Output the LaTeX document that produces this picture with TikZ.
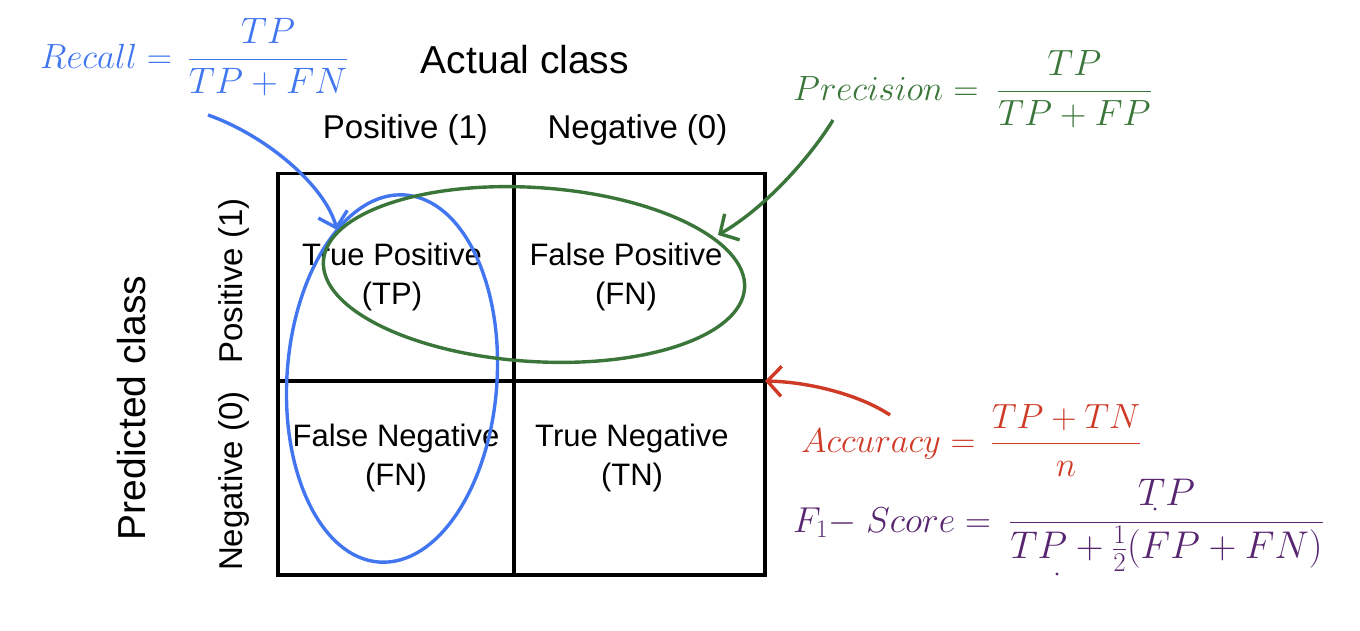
\RequirePackage{fix-cm}
\documentclass[tikz,border=0pt]{standalone}
\usepackage[no-math]{fontspec}
\newfontfamily\sansf{Liberation Sans}
\usetikzlibrary{arrows.meta}
\definecolor{recallblue}{RGB}{66,118,240}
\definecolor{precgreen}{RGB}{58,118,58}
\definecolor{accred}{RGB}{206,58,38}
\definecolor{fpurple}{RGB}{88,38,112}
\newcommand{\fsz}[1]{\fontsize{#1}{#1}\selectfont}
\begin{document}
\begin{tikzpicture}[x=1pt,y=1pt,
  lbl/.style={font=\sansf\fontsize{33}{40}\selectfont, inner sep=0pt},
  big/.style={font=\sansf\fontsize{39}{46}\selectfont, inner sep=0pt},
  cell/.style={font=\sansf\fontsize{31}{39}\selectfont, align=center, inner sep=0pt},
  gridline/.style={line width=3.8pt},
  loopline/.style={line width=3.4pt},
  pointer/.style={line width=3.4pt, -{Straight Barb[length=14pt,width=30pt]}},
  formula/.style={inner sep=0pt, anchor=base west}]
\useasboundingbox (0,0) rectangle (1360,-630);
% grid
\coordinate (tl) at (278,-173.5);
\coordinate (br) at (765,-575);
\coordinate (tm) at (514,-173.5);
\coordinate (bm) at (514,-575);
\coordinate (ml) at (278,-381);
\coordinate (mr) at (765,-381);
\draw[gridline] (tl) rectangle (br);
\draw[gridline] (tm) -- (bm);
\draw[gridline] (ml) -- (mr);
% headers
\node[big, anchor=base] (actual) at (525,-73.5) {Actual class};
\node[lbl, anchor=base] (colpos) at (405.5,-138) {Positive (1)};
\node[lbl, anchor=base] (colneg) at (637.5,-138) {Negative (0)};
\node[big, anchor=base, rotate=90] (pred) at (145,-408) {Predicted class};
\node[lbl, anchor=base, rotate=90] (rowpos) at (242,-281) {Positive (1)};
\node[lbl, anchor=base, rotate=90] (rowneg) at (242,-481) {Negative (0)};
% cells
\node[cell] (tp) at (392,-277) {True Positive\\(TP)};
\node[cell] (fp) at (626,-277) {False Positive\\(FN)};
\node[cell] (fn) at (396,-458) {False Negative\\(FN)};
\node[cell] (tn) at (632,-458) {True Negative\\(TN)};
% ellipses
\draw[loopline, recallblue, rotate around={-4:(392,-378.5)}] (392,-378.5) ellipse (105 and 184);
\draw[loopline, precgreen, rotate around={-3.7:(534,-274.5)}] (534,-274.5) ellipse (211 and 87);
% formulas
\node[formula, text=recallblue] (recall) at (40,-68)
  {\fsz{35}$Recall=\mkern8mu$\fsz{36.8}$\displaystyle\frac{TP}{TP+FN}$};
\node[formula, text=precgreen] (precision) at (793,-100)
  {\fsz{35}$Precision=\mkern9.5mu$\fsz{36.5}$\displaystyle\frac{TP}{TP+FP}$};
\node[formula, text=accred] (accuracy) at (801,-452)
  {\fsz{34.5}$Accuracy=\mkern8mu$\fsz{35}$\displaystyle\frac{TP+TN}{n}$};
\node[formula, text=fpurple] (fscore) at (793,-532)
  {\fsz{36}$F_1{-}\;Score=\mkern9mu$\fsz{38.6}$\displaystyle\frac{TP}{TP+\frac{1}{2}(FP+FN)}$};
\fill[fpurple] (1155,-509) circle (1.6);
\fill[fpurple] (1057,-574) circle (1.6);
% arrows
\coordinate (rs) at (208,-115);
\coordinate (rt) at (337,-230);
\draw[pointer, recallblue] (rs) .. controls (265,-135) and (325,-185) .. (rt);
\coordinate (ps) at (833,-120);
\coordinate (pt) at (718,-235);
\draw[pointer, precgreen] (ps) .. controls (815,-150) and (770,-205) .. (pt);
\coordinate (as) at (890,-415);
\draw[pointer, accred] (as) .. controls (860,-395) and (810,-382) .. (mr);
\end{tikzpicture}
\end{document}
